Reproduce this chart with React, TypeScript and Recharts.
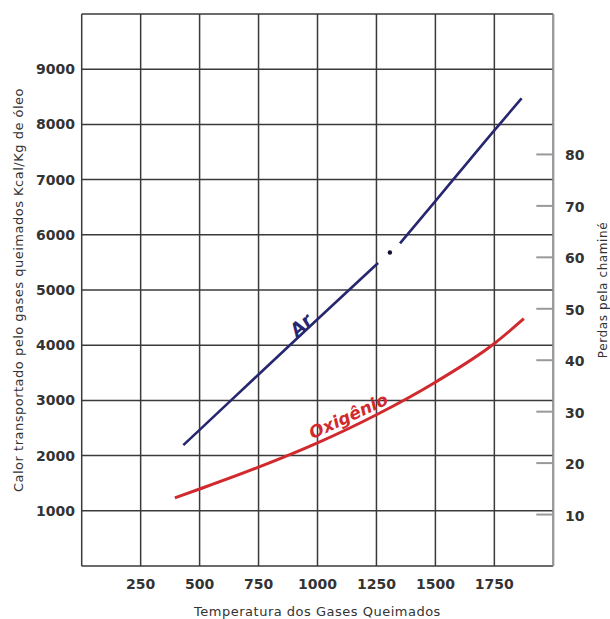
import { LineChart, Line, XAxis, YAxis, CartesianGrid, ReferenceDot } from "recharts";

// ticks
const tempTicks = [0, 250, 500, 750, 1000, 1250, 1500, 1750];
const calorTicks = [0, 1000, 2000, 3000, 4000, 5000, 6000, 7000, 8000, 9000, 10000];
const perdasTicks = [10, 20, 30, 40, 50, 60, 70, 80];

// Ar curve (null = gap in the drawn line)
const arTemp = [431, 500, 750, 1000, 1257, 1282, 1307, 1328, 1350, 1500, 1750, 1866];
const arCalor = [2190, 2466, 3470, 4470, 5490, null, 5680, null, 5846, 6610, 7893, 8473];

// Oxigênio curve
const oxTemp = [395, 500, 750, 1000, 1250, 1500, 1750, 1875];
const oxCalor = [1235, 1395, 1790, 2230, 2740, 3330, 4030, 4480];

const arData = arTemp.map((t, i) => ({ temp: t, calor: arCalor[i] }));
const oxData = oxTemp.map((t, i) => ({ temp: t, calor: oxCalor[i] }));

const FONT = "DejaVu Sans";
const BLUE = "#27276f";
const RED = "#d12a2e";

const tickStyle = { fill: "#333", fontSize: 14, fontWeight: "bold", fontFamily: FONT };
const titleStyle = { fill: "#333", fontSize: 13, fontFamily: FONT, letterSpacing: 0.5 };

function PerdasTick(props: any) {
  const { x, y, payload } = props;
  const ax = x - 11.7;
  return (
    <g>
      <line x1={ax - 17} x2={ax} y1={y} y2={y} stroke="#999" strokeWidth={2} />
      <text x={x} y={y} dy={6} fill="#333" fontSize={14} fontWeight="bold" fontFamily={FONT}>
        {payload.value}
      </text>
    </g>
  );
}

function arDot(props: any) {
  const { cx, cy, index } = props;
  if (index !== 6) return <g key={index} />;
  return <circle key={index} cx={cx} cy={cy} r={2.2} fill="#111133" />;
}

const hideTemp = (v: number) => (v === 0 ? "" : String(v));
const hideCalor = (v: number) => (v === 0 || v === 10000 ? "" : String(v));

export default function App() {
  return (
    <div style={{ position: "absolute", left: 0, top: 0, background: "#fff" }}>
      <LineChart width={610} height={619} margin={{ top: 14, right: 0, bottom: 0, left: 0 }}>
        <CartesianGrid yAxisId="calor" stroke="#3a3a3a" strokeWidth={1.5} />
        <XAxis
          dataKey="temp"
          type="number"
          domain={[0, 2000]}
          ticks={tempTicks}
          interval={0}
          tickFormatter={hideTemp}
          axisLine={false}
          tickLine={false}
          tickSize={0}
          tickMargin={13.4}
          height={53}
          tick={tickStyle}
          allowDataOverflow
          label={{ value: "Temperatura dos Gases Queimados", position: "insideBottom", offset: 3, style: { ...titleStyle, textAnchor: "middle" } }}
        />
        <YAxis
          yAxisId="calor"
          domain={[0, 10000]}
          ticks={calorTicks}
          interval={0}
          tickFormatter={hideCalor}
          axisLine={false}
          tickLine={false}
          tickSize={0}
          tickMargin={6.7}
          width={81.7}
          tick={tickStyle}
          allowDataOverflow
          label={{
            value: "Calor transportado pelo gases queimados Kcal/Kg de óleo",
            angle: -90,
            position: "insideLeft",
            offset: 18,
            style: { ...titleStyle, textAnchor: "middle" },
          }}
        />
        <YAxis
          yAxisId="perdas"
          orientation="right"
          domain={[0, 107.3]}
          ticks={perdasTicks}
          interval={0}
          axisLine={{ stroke: "#999", strokeWidth: 2 }}
          tickLine={false}
          tickSize={0}
          tickMargin={11.7}
          width={56.7}
          tick={<PerdasTick />}
          allowDataOverflow
          label={{
            value: "Perdas pela chaminé",
            angle: -90,
            position: "insideRight",
            offset: 7,
            style: { ...titleStyle, fontSize: 12, letterSpacing: 0.6, textAnchor: "middle" },
          }}
        />
        <Line
          data={oxData}
          dataKey="calor"
          yAxisId="calor"
          type="monotone"
          stroke={RED}
          strokeWidth={3}
          dot={false}
          activeDot={false}
          isAnimationActive={false}
        />
        <Line
          data={arData}
          dataKey="calor"
          yAxisId="calor"
          type="monotone"
          stroke={BLUE}
          strokeWidth={2.6}
          dot={arDot}
          activeDot={false}
          connectNulls={false}
          isAnimationActive={false}
        />
        <ReferenceDot
          x={930}
          y={4366}
          yAxisId="calor"
          r={0}
          label={{ value: "Ar", position: "center", angle: -43, fill: BLUE, fontSize: 18, fontWeight: "bold", fontStyle: "italic", fontFamily: FONT }}
        />
        <ReferenceDot
          x={1131}
          y={2717}
          yAxisId="calor"
          r={0}
          label={{ value: "Oxigênio", position: "center", angle: -25, fill: RED, fontSize: 17, fontWeight: "bold", fontStyle: "italic", fontFamily: FONT }}
        />
      </LineChart>
    </div>
  );
}
